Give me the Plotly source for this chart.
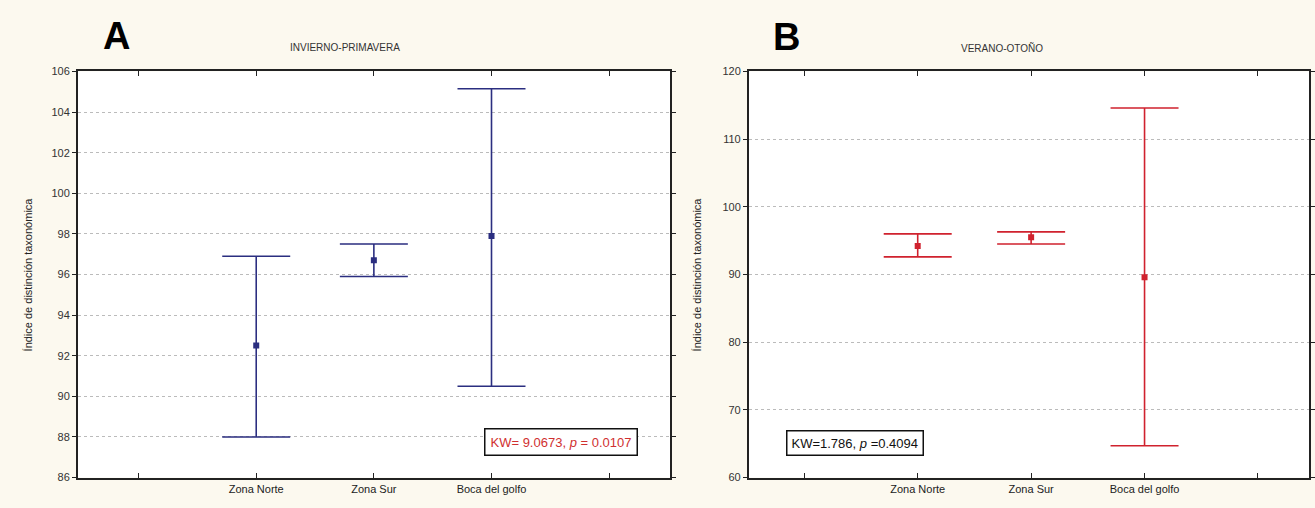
import plotly.graph_objects as go

categories = ["Zona Norte", "Zona Sur", "Boca del golfo"]
tick_labels = ["", "Zona Norte", "Zona Sur", "Boca del golfo", ""]

# Panel A: Invierno-Primavera
a_mean = [92.5, 96.7, 97.9]
a_upper = [96.9, 97.5, 105.15]
a_lower = [88.0, 95.9, 90.5]

# Panel B: Verano-Otoño
b_mean = [94.2, 95.5, 89.6]
b_upper = [96.0, 96.3, 114.6]
b_lower = [92.6, 94.5, 64.7]

a_yticks = [86, 88, 90, 92, 94, 96, 98, 100, 102, 104, 106]
b_yticks = [60, 70, 80, 90, 100, 110, 120]

BLUE = "#2B2E80"
RED = "#D0222E"
FONT = "Liberation Sans, Arial, sans-serif"

xpos = [1, 2, 3]

fig = go.Figure()

def add_panel(mean, upper, lower, color, xaxis, yaxis):
    fig.add_trace(go.Scatter(
        x=xpos, y=mean, mode="markers",
        marker=dict(symbol="square", size=6, color=color),
        error_y=dict(type="data", symmetric=False,
                     array=[u - m for u, m in zip(upper, mean)],
                     arrayminus=[m - l for m, l in zip(mean, lower)],
                     color=color, thickness=1.6, width=34),
        xaxis=xaxis, yaxis=yaxis, showlegend=False,
        hovertext=categories,
    ))

add_panel(a_mean, a_upper, a_lower, BLUE, "x", "y")
add_panel(b_mean, b_upper, b_lower, RED, "x2", "y2")

W, H = 1315, 508
def px(x):
    return x / W
def py(y):
    return 1 - y / H

xcommon = dict(tickvals=[0, 1, 2, 3, 4], ticktext=tick_labels,
               ticks="inside", ticklen=5, tickcolor="#222", tickwidth=1,
               showline=True, linecolor="#222", linewidth=1.5, mirror="ticks",
               showgrid=False, zeroline=False,
               tickfont=dict(family=FONT, size=11, color="#222"))
ycommon = dict(ticks="outside", ticklen=4, tickcolor="#222",
               showline=True, linecolor="#222", linewidth=1.5, mirror="ticks",
               showgrid=True, gridcolor="#BBBBBB", griddash="dot", gridwidth=1,
               zeroline=False,
               tickfont=dict(family=FONT, size=11, color="#333"))

fig.update_layout(
    width=W, height=H,
    margin=dict(l=0, r=0, t=0, b=0),
    paper_bgcolor="#FCF9EF",
    plot_bgcolor="white",
    xaxis=dict(domain=[px(78), px(672)], range=[-0.517, 4.517], anchor="y", **xcommon),
    yaxis=dict(domain=[py(483), py(67)], range=[86, 106], tickvals=a_yticks,
               anchor="x", **ycommon),
    xaxis2=dict(domain=[px(751), px(1313)], range=[-0.49, 4.45], anchor="y2", **xcommon),
    yaxis2=dict(domain=[py(483), py(67)], range=[60, 120], tickvals=b_yticks,
                anchor="x2", **ycommon),
)

ann = []
# panel letters
ann.append(dict(x=px(117), y=py(31), text="<b>A</b>", showarrow=False,
                font=dict(family=FONT, size=38, color="black"),
                xref="paper", yref="paper", xanchor="center", yanchor="middle"))
ann.append(dict(x=px(789), y=py(32), text="<b>B</b>", showarrow=False,
                font=dict(family=FONT, size=38, color="black"),
                xref="paper", yref="paper", xanchor="center", yanchor="middle"))
# panel titles
ann.append(dict(x=px(346), y=py(43), text="INVIERNO-PRIMAVERA", showarrow=False,
                font=dict(family=FONT, size=10, color="#333"),
                xref="paper", yref="paper", xanchor="center", yanchor="middle"))
ann.append(dict(x=px(1005), y=py(43), text="VERANO-OTOÑO", showarrow=False,
                font=dict(family=FONT, size=10, color="#333"),
                xref="paper", yref="paper", xanchor="center", yanchor="middle"))
# y-axis titles
ann.append(dict(x=px(28), y=py(275), text="Índice de distinción taxonómica", showarrow=False,
                textangle=-90, font=dict(family=FONT, size=11, color="#222"),
                xref="paper", yref="paper", xanchor="center", yanchor="middle"))
ann.append(dict(x=px(699), y=py(275), text="Índice de distinción taxonómica", showarrow=False,
                textangle=-90, font=dict(family=FONT, size=11, color="#222"),
                xref="paper", yref="paper", xanchor="center", yanchor="middle"))
# statistics boxes
ann.append(dict(x=px(563), y=py(447), text="KW= 9.0673, <i>p</i> = 0.0107", showarrow=False,
                font=dict(family=FONT, size=13, color="#D03030"),
                bordercolor="#111", borderwidth=1.5, borderpad=5, bgcolor="white",
                xref="paper", yref="paper", xanchor="center", yanchor="middle"))
ann.append(dict(x=px(858), y=py(448), text="KW=1.786, <i>p</i> =0.4094", showarrow=False,
                font=dict(family=FONT, size=13, color="#111"),
                bordercolor="#111", borderwidth=1.5, borderpad=4, bgcolor="white",
                xref="paper", yref="paper", xanchor="center", yanchor="middle"))

fig.update_layout(annotations=ann)

fig.write_html("out.html")
